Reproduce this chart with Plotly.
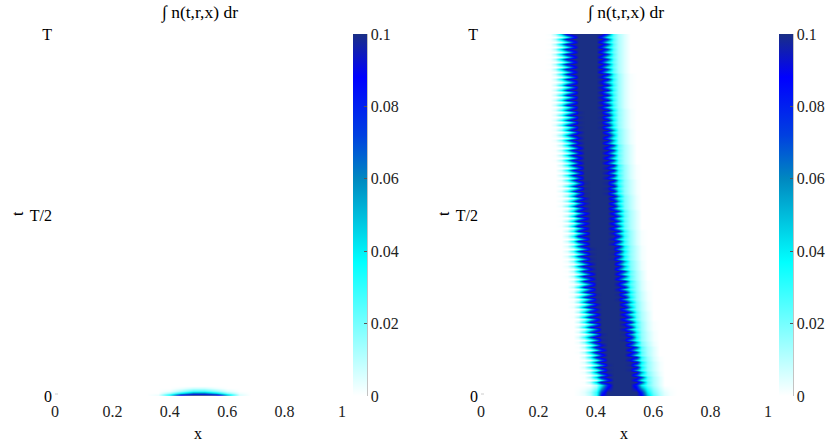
import plotly.graph_objects as go
import numpy as np

W, H = 860, 448   # a little wider than the 827 px window: the white right strip is outside the view
ML, MR, MT, MB = 30, 30, 24, 30
FONT = "Liberation Serif"

def fx(px):
    return (px - ML) / (W - ML - MR)

def fy(py):
    return ((H - MB) - py) / (H - MT - MB)

# ---------- data ----------
x_right = [.22,.24,.26,.28,.30,.32,.34,.36,.38,.40,.42,.44,.46,.48,.50,.52,.54,.56,.58,.60,.62,.64,.66,.68]

# start of the run (t = 0 and just above)
start_0 = [0,0,0,0,0,0,.001,.003,.01,.03,.09,.1,.1,.1,.1,.1,.1,.09,.05,.025,.012,.005,.001,0]
start_1 = [0,0,0,0,0,0,.001,.004,.012,.03,.075,.1,.1,.1,.1,.1,.1,.08,.04,.02,.01,.004,.001,0]

# band cross-sections read at four sub-column phases: (narrow row, wide row)
profile_a = ([0,0,.006,.032,.068,.1,.1,.1,.1,.09,.048,.026,.015,.006,.001,0],
             [0,.009,.037,.084,.1,.1,.1,.1,.1,.1,.09,.033,.015,.006,.001,0])
profile_b = ([0,0,.001,.016,.05,.09,.1,.1,.1,.1,.07,.034,.019,.01,.003,0],
             [0,.003,.02,.06,.097,.1,.1,.1,.1,.1,.1,.055,.02,.01,.003,0])
profile_c = ([0,0,.01,.04,.08,.1,.1,.1,.1,.08,.04,.022,.012,.005,0],
             [.001,.013,.048,.092,.1,.1,.1,.1,.1,.1,.075,.026,.012,.005,0])
profile_d = ([0,0,.003,.024,.058,.097,.1,.1,.1,.097,.058,.03,.016,.008,.002,0],
             [0,.006,.03,.072,.1,.1,.1,.1,.1,.1,.097,.04,.017,.008,.002,0])

# from late time (top of the picture) to early time: which cross-section,
# how many columns it sits from the left, how many row pairs it lasts
band_kind = ["c","a","d","b","c","a","d","b","c","a","d","b","c","a","d","b","c","a","d","b","c","a","d","b","c"]
band_cols = [1,1,1,1,2,2,2,2,3,3,3,3,4,4,4,4,5,5,5,5,6,6,6,6,7]
band_reps = [8,7,4,3,4,3,3,3,4,3,3,2,2,2,2,2,2,2,2,1,2,1,2,1,2]
t_start = [0.0, 0.012]
t_band_first = 0.0304

x_left = [.32,.36,.40,.44,.48,.52,.56,.60,.64,.68]
t_left = [0,.004,.008,.014,.022,.028]
z_left = [
 [0,.015,.09,.1,.1,.1,.1,.09,.02,0],
 [0,.003,.04,.09,.1,.1,.095,.05,.006,0],
 [0,0,.012,.035,.06,.06,.04,.015,.002,0],
 [0,0,.002,.012,.025,.025,.015,.004,0,0],
 [0,0,0,.002,.006,.006,.002,0,0,0],
 [0,0,0,0,0,0,0,0,0,0],
]

cbar_ticks = [0,.02,.04,.06,.08,.1]
cbar_text = ["0","0.02","0.04","0.06","0.08","0.1"]
x_ticks = [0,.2,.4,.6,.8,1]
x_text = ["0","0.2","0.4","0.6","0.8","1"]
t_ticks = [0,.5,1]
t_text = ["0","T/2","T"]
title = "∫ n(t,r,x) dr"

# ---------- assemble the right-hand matrix ----------
profiles = {"a": profile_a, "b": profile_b, "c": profile_c, "d": profile_d}
n_cols = len(x_right)
def place(profile, cols):
    return [0] * cols + profile + [0] * (n_cols - cols - len(profile))

rows = [start_0, start_1]
for kind, cols, rep in zip(band_kind[::-1], band_cols[::-1], band_reps[::-1]):
    narrow, wide = profiles[kind]
    for _ in range(rep):
        rows.append(place(narrow, cols))
        rows.append(place(wide, cols))
n_band = len(rows) - 2
t_right = t_start + list(np.linspace(t_band_first, 1.0, n_band))

colorscale = [
    [0.00, "#ffffff"], [0.37, "#00ffff"], [0.60, "#0088c0"],
    [0.72, "#0040e0"], [0.88, "#0000ff"], [1.00, "#1a2f85"],
]

def cb(px_left):
    return dict(
        x=fx(px_left), xanchor="left", xpad=0, y=fy(396), yanchor="bottom", ypad=0,
        thickness=14, thicknessmode="pixels", len=362, lenmode="pixels",
        outlinewidth=0, tickmode="array", tickvals=cbar_ticks, ticktext=cbar_text,
        ticks="inside", ticklen=3, tickcolor="#555555", tickwidth=1,
        tickfont=dict(family=FONT, size=16, color="#222222"),
    )

fig = go.Figure()
fig.add_trace(go.Heatmap(x=x_left, y=t_left, z=z_left, zmin=0, zmax=.1, zsmooth="best",
                         colorscale=colorscale, colorbar=cb(353), xaxis="x", yaxis="y"))
fig.add_trace(go.Heatmap(x=x_right, y=t_right, z=rows, zmin=0, zmax=.1, zsmooth="best",
                         colorscale=colorscale, colorbar=cb(779), xaxis="x2", yaxis="y2"))

def xax(a, b):
    return dict(domain=[fx(a), fx(b)], range=[0, 1], tickmode="array", tickvals=x_ticks, ticktext=x_text,
                showgrid=False, zeroline=False, showline=False, ticks="outside", ticklen=1,
                tickcolor="rgba(0,0,0,0)",
                tickfont=dict(family=FONT, size=16, color="#222222"))

def yax(anchor):
    return dict(domain=[fy(396), fy(34)], range=[0, 1], anchor=anchor, tickmode="array", tickvals=t_ticks,
                ticktext=t_text, showgrid=False, zeroline=False, showline=False, ticks="", ticklen=0,
                ticklabelstandoff=2,
                tickfont=dict(family=FONT, size=16, color="#000000"))

shapes = [
    dict(type="line", xref="paper", yref="paper", x0=fx(px), x1=fx(px), y0=fy(396), y1=fy(34),
         line=dict(color="#888888", width=1))
    for px in (367, 793)
] + [
    dict(type="line", xref="paper", yref="paper", x0=fx(px), x1=fx(px + 3), y0=fy(394), y1=fy(394),
         line=dict(color="#cccccc", width=1))
    for px in (55, 481)
]

def note(text, px, py, size=16, angle=0):
    return dict(text=text, xref="paper", yref="paper", x=fx(px), y=fy(py), showarrow=False,
                xanchor="center", yanchor="middle", textangle=angle,
                font=dict(family=FONT, size=size, color="#000000"))

annotations = [
    note(title, 199, 13, size=17.5), note(title, 625, 13, size=17.5),
    note("x", 198, 434), note("x", 624, 434),
    note("t", 17, 214, angle=-90), note("t", 443, 214, angle=-90),
]

fig.update_layout(
    width=W, height=H, margin=dict(l=ML, r=MR, t=MT, b=MB), paper_bgcolor="white", plot_bgcolor="white",
    xaxis=xax(55, 342), yaxis=yax("x"), xaxis2=xax(481, 768), yaxis2=yax("x2"),
    shapes=shapes, annotations=annotations,
)
fig.write_html("out.html", config=dict(displayModeBar=False),
               post_script="document.body.style.margin='0';document.documentElement.style.overflow='hidden';document.body.style.overflow='hidden';")
